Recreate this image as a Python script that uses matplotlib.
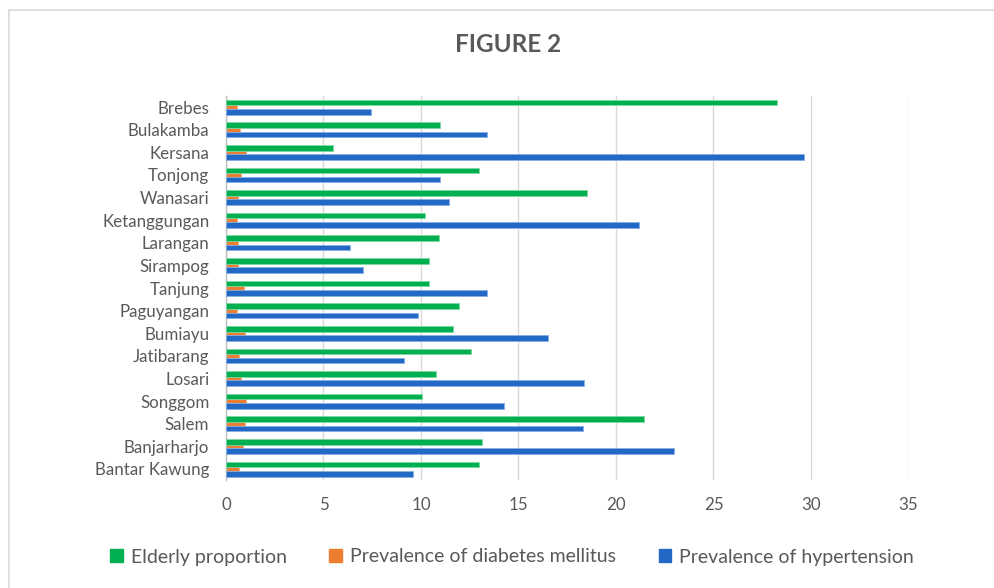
import matplotlib
matplotlib.use("Agg")
import matplotlib.pyplot as plt
from matplotlib.patches import Rectangle
import numpy as np

plt.rcParams["font.family"] = ["Lato", "DejaVu Sans"]

districts = ["Brebes", "Bulakamba", "Kersana", "Tonjong", "Wanasari", "Ketanggungan",
             "Larangan", "Sirampog", "Tanjung", "Paguyangan", "Bumiayu", "Jatibarang",
             "Losari", "Songgom", "Salem", "Banjarharjo", "Bantar Kawung"]
elderly = [28.25, 11.0, 5.5, 13.0, 18.5, 10.2, 10.9, 10.4, 10.4, 11.95, 11.65, 12.57,
           10.76, 10.03, 21.45, 13.14, 12.98]
diabetes = [0.55, 0.71, 1.05, 0.76, 0.64, 0.55, 0.64, 0.64, 0.92, 0.55, 0.98, 0.66,
            0.78, 1.03, 0.98, 0.85, 0.66]
hypertension = [7.44, 13.39, 29.65, 10.99, 11.42, 21.2, 6.36, 7.03, 13.39, 9.84, 16.5,
                9.11, 18.38, 14.24, 18.29, 22.99, 9.57]
series_names = ["Elderly proportion", "Prevalence of diabetes mellitus",
                "Prevalence of hypertension"]
x_ticks = [0, 5, 10, 15, 20, 25, 30, 35]

GREEN = "#00B050"
ORANGE = "#ED7D31"
BLUE = "#2468C6"
TEXT = "#595959"
GRID = "#D9D9D9"

fig = plt.figure(figsize=(9.95, 5.88), dpi=100)
fig.patch.set_facecolor("white")

# chart frame
fig.patches.append(Rectangle((8.5 / 995, -0.1), 1.2, 1 - 10 / 588 + 0.1,
                             transform=fig.transFigure, fill=False,
                             edgecolor=GRID, linewidth=1.2))

ax = fig.add_axes([226 / 995, 1 - 480.3 / 588, (908.5 - 226) / 995, (480.3 - 95.7) / 588])

y = np.arange(len(districts))
h = 0.25
ax.barh(y + 0.005, diabetes, height=h, color=ORANGE, zorder=2, edgecolor="#F4A97A", linewidth=0.5)
ax.barh(y - 0.2, elderly, height=h, color=GREEN, zorder=3, edgecolor="#7CD8A3", linewidth=0.6)
ax.barh(y + 0.21, hypertension, height=h, color=BLUE, zorder=3, edgecolor="#86AEE6", linewidth=0.6)

ax.set_ylim(len(districts) - 0.5, -0.5)
ax.set_xlim(0, 35)
ax.set_xticks(x_ticks)
ax.set_xticklabels([str(t) for t in x_ticks])
ax.set_yticks(y)
ax.set_yticklabels(districts)
ax.tick_params(axis="both", length=0, colors=TEXT, labelsize=12.2)
ax.tick_params(axis="x", pad=12)
ax.tick_params(axis="y", pad=12)
ax.grid(axis="x", color=GRID, linewidth=1, zorder=0)
ax.set_axisbelow(True)
for s in ["top", "right", "bottom"]:
    ax.spines[s].set_visible(False)
ax.spines["left"].set_color("#BFBFBF")
ax.spines["left"].set_linewidth(1)

fig.text(508 / 995, 1 - 45 / 588, "FIGURE 2", ha="center", va="center",
         fontsize=17.5, fontweight="bold", color=TEXT)

handles = [Rectangle((0, 0), 1, 1, color=c) for c in (GREEN, ORANGE, BLUE)]
leg = fig.legend(handles, series_names, loc="center", bbox_to_anchor=(512 / 995, 1 - 557 / 588),
                 ncol=3, frameon=False, fontsize=14, handlelength=0.65, handleheight=0.65,
                 handletextpad=0.4, columnspacing=2.2, labelcolor=TEXT)

fig.savefig("out.png", dpi=100, facecolor="white")
